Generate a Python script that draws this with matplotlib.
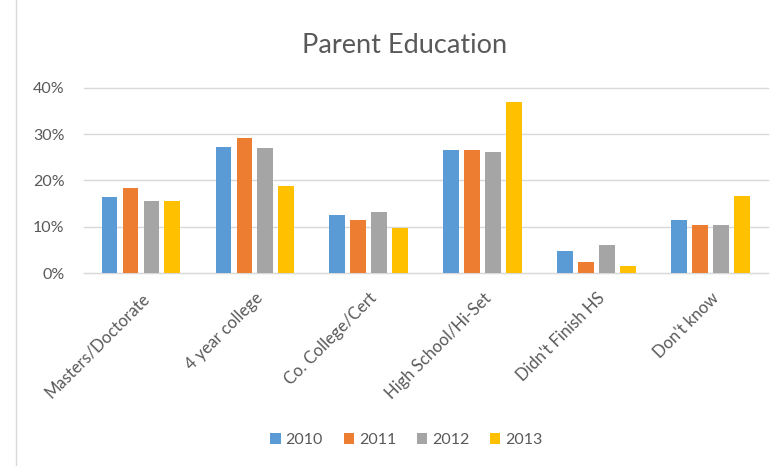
import matplotlib
matplotlib.use("Agg")
import matplotlib.pyplot as plt
import numpy as np
from matplotlib.ticker import PercentFormatter

categories = ["Masters/Doctorate", "4 year college", "Co. College/Cert",
              "High School/Hi-Set", "Didn't Finish HS", "Don't know"]
years = ["2010", "2011", "2012", "2013"]
v2010 = [16.4, 27.2, 12.5, 26.5, 4.9, 11.5]
v2011 = [18.4, 29.2, 11.5, 26.5, 2.4, 10.5]
v2012 = [15.6, 26.9, 13.2, 26.1, 6.2, 10.5]
v2013 = [15.6, 18.8, 9.7, 36.9, 1.6, 16.7]
series = [v2010, v2011, v2012, v2013]
colors = ["#5B9BD5", "#ED7D31", "#A5A5A5", "#FFC000"]

plt.rcParams['font.family'] = ['Lato', 'DejaVu Sans']
txt = "#595959"

fig = plt.figure(figsize=(7.77, 4.66), dpi=100)
ax = fig.add_axes([0.108, 0.4135, 0.88, 0.3985])

x = np.arange(len(categories))
step = 0.184
bw = 0.138
for i, (vals, c, yr) in enumerate(zip(series, colors, years)):
    ax.bar(x + (i - 1.5) * step, vals, width=bw, color=c, label=yr, zorder=3)

ax.set_xlim(-0.5, len(categories) - 0.5)
ax.set_ylim(0, 40)
ax.set_yticks([0, 10, 20, 30, 40])
ax.yaxis.set_major_formatter(PercentFormatter(decimals=0))
ax.grid(axis='y', color="#D9D9D9", linewidth=1, zorder=0, clip_on=False)
for s in ["top", "right", "left"]:
    ax.spines[s].set_visible(False)
ax.spines["bottom"].set_color("#D9D9D9")
ax.tick_params(axis='both', length=0, colors=txt)
ax.tick_params(axis='y', pad=14, labelsize=11.5)
ax.set_xticks(x)
ax.set_xticklabels(categories, rotation=45, ha='right', rotation_mode='anchor')
ax.tick_params(axis='x', pad=12, labelsize=12)

fig.text(0.521, 0.903, "Parent Education", ha='center', va='center',
         fontsize=19.5, color=txt)

leg = fig.legend(loc='center', bbox_to_anchor=(0.523, 0.055), ncol=4, frameon=False,
                 fontsize=11.5, handlelength=0.65, handleheight=0.65, handletextpad=0.3,
                 columnspacing=1.3, labelcolor=txt)

# chart frame left edge
fig.add_artist(plt.Line2D([0.0206, 0.0206], [0.0, 1.0], color="#D9D9D9", linewidth=1))

fig.savefig("out.png", dpi=100)
